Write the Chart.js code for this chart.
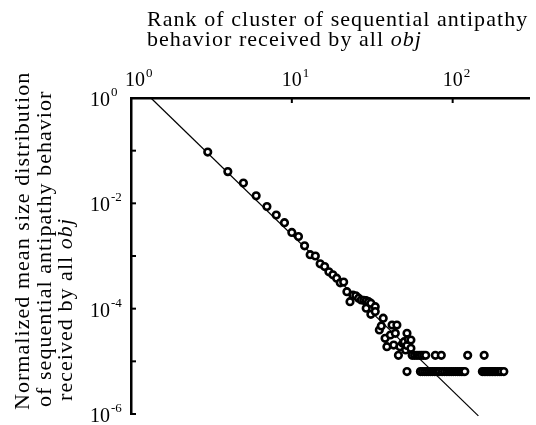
<!DOCTYPE html>
<html>
<head>
<meta charset="utf-8">
<script src="https://cdn.jsdelivr.net/npm/chart.js@4.4.0/dist/chart.umd.min.js"></script>
<style>
  html, body { margin: 0; padding: 0; background: #fff; }
  #wrap { width: 536px; height: 425px; position: relative; }
</style>
</head>
<body>
<div id="wrap"><canvas id="chart"></canvas></div>
<script>
// cluster rank vs normalized mean size
const ranks = [
  3, 4, 5, 6, 7, 8, 9, 10, 11, 12,
  13, 14, 15, 16, 17, 18, 19, 20, 21, 22,
  23, 24, 25, 26, 27, 28, 29, 29, 30, 31,
  31, 33, 33, 35, 36, 37, 38, 39, 41, 42,
  43, 44, 45, 47, 49, 50, 51, 52, 52, 53,
  55, 55,
  46, 56, 58, 60, 62, 64, 66, 68, 78, 85, 124, 157,
  52, 63, 65, 67, 69, 71, 73, 75, 77, 79,
  81, 83, 86, 89, 92, 95, 98, 101, 104, 107,
  110, 113, 116, 119,
  153, 157, 161, 165, 169, 173, 177, 181, 185, 190, 195, 200, 208
];
const sizes = [
  0.094, 0.040, 0.0242, 0.0139, 0.0087, 0.0060, 0.0043, 0.0028, 0.00234, 0.00156,
  0.00106, 0.00100, 0.00071, 0.00063, 0.00050, 0.00044, 0.00038, 0.00031, 0.00032, 0.00021,
  0.000136, 0.00018, 0.000175, 0.000158, 0.000146, 0.000144, 0.000142, 0.000102, 0.000136, 0.000127,
  0.000078, 0.000109, 0.000088, 0.0000395, 0.000047, 0.000066, 0.0000274, 0.000019, 0.0000316, 0.000049,
  0.0000204, 0.000034, 0.000049, 0.000019, 0.000022, 0.0000236, 0.0000164, 0.000034, 0.000020, 0.000026,
  0.0000254, 0.0000177,
  1.3e-5, 1.3e-5, 1.3e-5, 1.3e-5, 1.3e-5, 1.3e-5, 1.3e-5, 1.3e-5, 1.3e-5, 1.3e-5, 1.3e-5, 1.3e-5,
  6.4e-6, 6.4e-6, 6.4e-6, 6.4e-6, 6.4e-6, 6.4e-6, 6.4e-6, 6.4e-6, 6.4e-6, 6.4e-6,
  6.4e-6, 6.4e-6, 6.4e-6, 6.4e-6, 6.4e-6, 6.4e-6, 6.4e-6, 6.4e-6, 6.4e-6, 6.4e-6,
  6.4e-6, 6.4e-6, 6.4e-6, 6.4e-6,
  6.4e-6, 6.4e-6, 6.4e-6, 6.4e-6, 6.4e-6, 6.4e-6, 6.4e-6, 6.4e-6, 6.4e-6, 6.4e-6, 6.4e-6, 6.4e-6, 6.4e-6
];

// power-law fit line, two ends
const fitRanks = [1.33, 144.5];
const fitSizes = [1, 9.2e-7];

// axis ticks
const xTickValues = [1, 10, 100];
const xTickMarks = [10, 100];
const yTickValues = [1, 1e-2, 1e-4, 1e-6];
const yTickMarks = [1e-1, 1e-2, 1e-3, 1e-4, 1e-5, 1e-6];

const xTitle = ['Rank of cluster of sequential antipathy', 'behavior received by all ', 'obj'];
const yTitle = ['Normalized mean size distribution', 'of sequential antipathy behavior', 'received by all ', 'obj'];

const SERIF = '"Liberation Serif", "Times New Roman", serif';

function expOf(v) {
  return String(Math.round(Math.log10(v)));
}

const decor = {
  id: 'decor',
  afterDraw(chart) {
    const ctx = chart.ctx;
    const xs = chart.scales.x;
    const ys = chart.scales.y;
    const area = chart.chartArea;
    ctx.save();
    ctx.strokeStyle = '#000';
    ctx.fillStyle = '#000';

    // tick marks, pointing inside
    ctx.lineWidth = 2;
    yTickMarks.forEach(v => {
      const y = ys.getPixelForValue(v);
      ctx.beginPath();
      ctx.moveTo(area.left, y);
      ctx.lineTo(area.left + 5, y);
      ctx.stroke();
    });
    xTickMarks.forEach(v => {
      const x = xs.getPixelForValue(v);
      ctx.beginPath();
      ctx.moveTo(x, area.top);
      ctx.lineTo(x, area.top + 5);
      ctx.stroke();
    });

    // tick labels 10^n
    ctx.textBaseline = 'alphabetic';
    yTickValues.forEach(v => {
      const y = ys.getPixelForValue(v);
      ctx.font = '20px ' + SERIF;
      ctx.textAlign = 'left';
      ctx.fillText('10', 90, y + 8);
      const w = ctx.measureText('10').width;
      ctx.font = '13px ' + SERIF;
      ctx.fillText(expOf(v), 90 + w + 1, y - 2);
    });
    xTickValues.forEach(v => {
      const x = xs.getPixelForValue(v);
      ctx.font = '20px ' + SERIF;
      const w = ctx.measureText('10').width;
      ctx.textAlign = 'left';
      const shift = v === 1 ? 4 : 0;
      ctx.fillText('10', x - w / 2 + shift, 86);
      ctx.font = '13px ' + SERIF;
      ctx.fillText(expOf(v), x + w / 2 + 1 + shift, 77);
    });

    // axis titles
    ctx.textAlign = 'left';
    ctx.letterSpacing = '1.05px';
    ctx.font = '22px ' + SERIF;
    ctx.fillText(xTitle[0], 147, 26);
    ctx.fillText(xTitle[1], 147, 46);
    let w = ctx.measureText(xTitle[1]).width;
    ctx.font = 'italic 22px ' + SERIF;
    ctx.fillText(xTitle[2], 147 + w, 46);

    ctx.save();
    ctx.rotate(-Math.PI / 2);
    ctx.letterSpacing = '1.05px';
    ctx.font = '22px ' + SERIF;
    ctx.fillText(yTitle[0], -410, 29);
    ctx.fillText(yTitle[1], -407, 51);
    ctx.fillText(yTitle[2], -401, 72);
    w = ctx.measureText(yTitle[2]).width;
    ctx.font = 'italic 22px ' + SERIF;
    ctx.fillText(yTitle[3], -401 + w, 72);
    ctx.restore();

    ctx.restore();
  }
};

new Chart(document.getElementById('chart'), {
  data: {
    datasets: [
      {
        type: 'scatter',
        data: ranks.map((r, i) => ({ x: r, y: sizes[i] })),
        pointStyle: 'circle',
        pointRadius: 3.3,
        borderWidth: 2.6,
        borderColor: '#000',
        backgroundColor: '#fff'
      },
      {
        type: 'line',
        data: fitRanks.map((r, i) => ({ x: r, y: fitSizes[i] })),
        borderColor: '#000',
        borderWidth: 1.2,
        pointRadius: 0,
        fill: false,
        clip: false
      }
    ]
  },
  options: {
    responsive: true,
    maintainAspectRatio: false,
    animation: false,
    layout: { padding: { top: 0, left: 0, right: 0, bottom: 11 } },
    plugins: {
      legend: { display: false },
      tooltip: { enabled: false }
    },
    scales: {
      x: {
        type: 'logarithmic',
        position: 'top',
        min: 1,
        max: 300,
        ticks: { display: false },
        grid: { display: false },
        border: { display: true, color: '#000', width: 2.5 },
        afterFit: (s) => { s.height = 98; }
      },
      y: {
        type: 'logarithmic',
        min: 1e-6,
        max: 1,
        ticks: { display: false },
        grid: { display: false },
        border: { display: true, color: '#000', width: 2.5 },
        afterFit: (s) => { s.width = 131; }
      }
    }
  },
  plugins: [decor]
});
</script>
</body>
</html>
